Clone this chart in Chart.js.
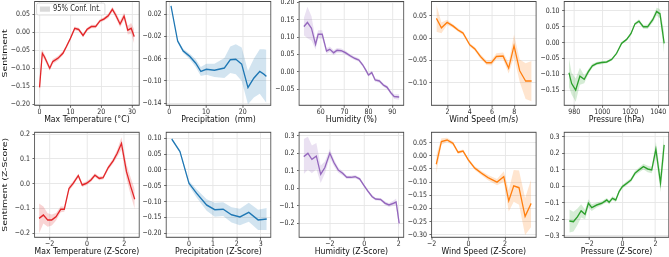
<!DOCTYPE html>
<html><head><meta charset="utf-8">
<script src="https://cdn.jsdelivr.net/npm/chart.js@4.4.1/dist/chart.umd.min.js"></script>
<style>
html,body{margin:0;padding:0;background:#fff;overflow:hidden;width:669px;height:257px}
#wrap{position:absolute;left:0;top:0;width:669px;height:257px}
#wrap canvas{position:absolute}
</style></head><body><div id="wrap"></div>
<script>
// ---------- data ----------
const tempX = [0, 0.9, 1.6, 3.3, 4.3, 6.0, 7.6, 8.7, 10.0, 11.4, 12.7, 14.1, 15.4, 16.8, 18.2, 19.6, 20.9, 22.3, 23.6, 24.7, 26.1, 27.4, 28.6, 29.7, 30.7];
const tempY = [-0.153, -0.058, -0.068, -0.100, -0.081, -0.072, -0.058, -0.040, -0.017, 0.011, 0.008, -0.009, 0.008, 0.016, 0.016, 0.032, 0.037, 0.046, 0.064, 0.048, 0.023, 0.045, 0.006, 0.011, -0.012];
const tempCI = [0.030, 0.010, 0.008, 0.007, 0.007, 0.006, 0.006, 0.005, 0.005, 0.005, 0.005, 0.005, 0.005, 0.005, 0.005, 0.005, 0.005, 0.006, 0.007, 0.008, 0.009, 0.010, 0.012, 0.015, 0.020];

const precipX = [0.5, 2.3, 3.8, 5.6, 7.2, 8.6, 10.1, 12.3, 15.0, 16.6, 18.1, 19.7, 21.4, 23.0, 24.6, 25.7, 26.4];
const precipY = [0.035, -0.028, -0.046, -0.056, -0.068, -0.083, -0.079, -0.081, -0.077, -0.062, -0.061, -0.070, -0.112, -0.095, -0.083, -0.088, -0.092];
const precipCI = [0.002, 0.003, 0.004, 0.005, 0.007, 0.008, 0.010, 0.012, 0.018, 0.024, 0.027, 0.030, 0.030, 0.035, 0.040, 0.045, 0.048];

const humX = [52.9, 54.4, 56.1, 57.8, 58.9, 60.6, 62.4, 63.8, 65.4, 66.8, 68.6, 70.4, 72.4, 74.2, 76.0, 77.6, 79.0, 80.0, 81.4, 82.8, 84.6, 86.3, 87.8, 89.4, 90.8, 92.9];
const humY = [0.130, 0.142, 0.125, 0.079, 0.108, 0.108, 0.060, 0.065, 0.055, 0.062, 0.061, 0.055, 0.046, 0.039, 0.034, 0.020, 0.004, -0.009, -0.002, -0.023, -0.026, -0.038, -0.044, -0.060, -0.071, -0.072];
const humCI = [0.025, 0.045, 0.035, 0.015, 0.012, 0.012, 0.008, 0.008, 0.007, 0.007, 0.006, 0.006, 0.005, 0.005, 0.005, 0.005, 0.005, 0.005, 0.005, 0.005, 0.005, 0.005, 0.005, 0.006, 0.007, 0.008];

const windX = [1.01, 1.46, 1.97, 2.5, 2.96, 3.4, 4.0, 4.45, 4.96, 5.5, 5.94, 6.39, 6.99, 7.49, 7.97, 8.48, 9.01, 9.55];
const windY = [0.044, 0.023, 0.035, 0.027, 0.018, 0.011, -0.015, -0.024, -0.041, -0.055, -0.055, -0.041, -0.040, -0.067, -0.017, -0.073, -0.096, -0.096];
const windCI = [0.030, 0.012, 0.006, 0.004, 0.004, 0.004, 0.004, 0.004, 0.005, 0.005, 0.006, 0.007, 0.008, 0.012, 0.025, 0.025, 0.040, 0.045];

const presX = [976.2, 978.1, 981.0, 984.0, 987.1, 990.0, 992.9, 996.0, 999.5, 1003.1, 1006.7, 1010.2, 1013.8, 1017.4, 1020.5, 1023.3, 1026.2, 1029.3, 1032.4, 1036.0, 1038.8, 1041.2, 1044.2];
const presY = [-0.095, -0.129, -0.150, -0.106, -0.116, -0.092, -0.073, -0.066, -0.063, -0.061, -0.053, -0.034, -0.002, 0.010, 0.029, 0.059, 0.068, 0.050, 0.050, 0.072, 0.098, 0.091, -0.002];
const presCI = [0.045, 0.035, 0.037, 0.027, 0.012, 0.008, 0.006, 0.005, 0.005, 0.004, 0.004, 0.004, 0.004, 0.004, 0.004, 0.005, 0.006, 0.006, 0.007, 0.008, 0.012, 0.015, 0.035];

const zTempX = [-2.56, -2.33, -2.10, -1.88, -1.65, -1.40, -1.21, -0.96, -0.73, -0.46, -0.25, -0.02, 0.21, 0.43, 0.66, 0.87, 1.14, 1.40, 1.62, 1.85, 2.12, 2.35, 2.56];
const zTempY = [-0.141, -0.127, -0.147, -0.147, -0.134, -0.104, -0.104, -0.020, 0.001, 0.032, -0.006, 0.001, 0.014, 0.034, 0.021, 0.024, 0.064, 0.091, 0.122, 0.162, 0.048, -0.013, -0.063];
const zTempCI = [0.060, 0.034, 0.027, 0.022, 0.015, 0.012, 0.010, 0.010, 0.009, 0.008, 0.008, 0.008, 0.008, 0.008, 0.008, 0.008, 0.009, 0.010, 0.015, 0.025, 0.030, 0.035, 0.040];

const zPrecipX = [-0.72, -0.375, 0, 0.32, 0.74, 1.08, 1.43, 1.78, 2.13, 2.5, 2.89, 3.25];
const zPrecipY = [0.098, 0.058, -0.042, -0.074, -0.111, -0.126, -0.124, -0.142, -0.149, -0.134, -0.158, -0.155];
const zPrecipCI = [0.004, 0.005, 0.008, 0.013, 0.018, 0.022, 0.022, 0.024, 0.026, 0.030, 0.032, 0.035];

const zHumX = [-3.51, -3.27, -3.04, -2.78, -2.53, -2.29, -2.00, -1.76, -1.51, -1.25, -1.02, -0.78, -0.53, -0.27, -0.04, 0.20, 0.45, 0.65, 0.94, 1.20, 1.43, 1.69, 1.84, 2.02];
const zHumY = [0.182, 0.201, 0.166, 0.185, 0.081, 0.119, 0.201, 0.147, 0.105, 0.086, 0.063, 0.063, 0.067, 0.054, 0.019, -0.015, -0.047, -0.061, -0.063, -0.085, -0.095, -0.085, -0.078, -0.200];
const zHumCI = [0.100, 0.095, 0.080, 0.075, 0.050, 0.035, 0.025, 0.020, 0.015, 0.012, 0.010, 0.010, 0.010, 0.008, 0.008, 0.008, 0.008, 0.008, 0.008, 0.010, 0.012, 0.015, 0.020, 0.040];

const zWindX = [-1.75, -1.47, -1.16, -0.84, -0.56, -0.29, 0, 0.35, 0.71, 1.07, 1.56, 1.93, 2.20, 2.47, 2.76, 3.09, 3.42];
const zWindY = [-0.032, 0.054, 0.060, 0.047, 0.013, 0.018, -0.016, -0.047, -0.066, -0.083, -0.100, -0.079, -0.171, -0.114, -0.121, -0.230, -0.180];
const zWindCI = [0.035, 0.012, 0.008, 0.007, 0.006, 0.006, 0.006, 0.007, 0.008, 0.010, 0.012, 0.020, 0.040, 0.060, 0.065, 0.070, 0.090];

const zPresX = [-3.2, -2.95, -2.71, -2.49, -2.25, -2.05, -1.85, -1.55, -1.25, -0.94, -0.8, -0.6, -0.4, -0.2, 0, 0.26, 0.52, 0.76, 1.0, 1.27, 1.53, 1.77, 2.02, 2.3, 2.52];
const zPresY = [-0.209, -0.213, -0.183, -0.148, -0.169, -0.102, -0.128, -0.112, -0.102, -0.082, -0.096, -0.072, -0.082, -0.031, -0.001, 0.019, 0.039, 0.080, 0.100, 0.120, 0.106, 0.100, 0.225, 0.020, 0.252];
const zPresCI = [0.070, 0.060, 0.050, 0.040, 0.030, 0.025, 0.020, 0.015, 0.012, 0.012, 0.012, 0.012, 0.012, 0.012, 0.012, 0.012, 0.012, 0.013, 0.015, 0.018, 0.020, 0.020, 0.045, 0.055, 0.070];

// tick values
const tempXTicks = [0, 10, 20, 30];
const tempYTicks = [-0.20, -0.15, -0.10, -0.05, 0.00, 0.05];
const precipXTicks = [0, 10, 20];
const precipYTicks = [-0.14, -0.10, -0.06, -0.02, 0.02];
const humXTicks = [60, 70, 80, 90];
const humYTicks = [-0.05, 0.00, 0.05, 0.10, 0.15, 0.20];
const windXTicks = [2, 4, 6, 8];
const windYTicks = [-0.10, -0.05, 0.00, 0.05];
const presXTicks = [980, 1000, 1020, 1040];
const presYTicks = [-0.15, -0.10, -0.05, 0.00, 0.05, 0.10];
const zTempXTicks = [-2, 0, 2];
const zTempYTicks = [-0.2, -0.1, 0.0, 0.1, 0.2];
const zPrecipXTicks = [0, 1, 2, 3];
const zPrecipYTicks = [-0.20, -0.15, -0.10, -0.05, 0.00, 0.05, 0.10];
const zHumXTicks = [-2, 0, 2];
const zHumYTicks = [-0.2, -0.1, 0.0, 0.1, 0.2, 0.3];
const zWindXTicks = [-2, 0, 2];
const zWindYTicks = [-0.30, -0.25, -0.20, -0.15, -0.10, -0.05, 0.00, 0.05];
const zPresXTicks = [-2, 0, 2];
const zPresYTicks = [-0.3, -0.2, -0.1, 0.0, 0.1, 0.2, 0.3];

// axis titles
const xTitles = ['Max Temperature (°C)', 'Precipitation  (mm)', 'Humidity (%)', 'Wind Speed (m/s)', 'Pressure (hPa)',
                 'Max Temperature (Z-Score)', 'Precipitation (Z-Score)', 'Humidity (Z-Score)', 'Wind Speed (Z-Score)', 'Pressure (Z-Score)'];
const yTitles = ['Sentiment', 'Sentiment (Z-Score)'];
const legendLabel = '95% Conf. Int.';

// ---------- styling / layout ----------
const COLORS = {
  red: ['#e3262a', 'rgba(227,38,42,0.2)'],
  blue: ['#1f77b4', 'rgba(31,119,180,0.2)'],
  purple: ['#9467bd', 'rgba(148,103,189,0.2)'],
  orange: ['#ff7f0e', 'rgba(255,127,14,0.2)'],
  green: ['#2ca02c', 'rgba(44,160,44,0.2)']
};
const S = 0.835;                      // horizontal squeeze of the whole figure
const colL = [34.6, 166.2, 299.1, 431.5, 564.2];
const PW = 104.6;
const rowT = [1.5, 132.3], rowH = [103.8, 105];
const PAD_T = 7, HX = 20.1;

const panels = [
  {x: tempX, y: tempY, ci: tempCI, c: 'red', xr: [-1.6, 32.3], yr: [-0.2028, 0.0856], xt: tempXTicks, yt: tempYTicks, yd: 2, col: 0, row: 0, legend: true},
  {x: precipX, y: precipY, ci: precipCI, c: 'blue', xr: [-0.8, 27.6], yr: [-0.144, 0.043], xt: precipXTicks, yt: precipYTicks, yd: 2, col: 1, row: 0},
  {x: humX, y: humY, ci: humCI, c: 'purple', xr: [50.9, 94.8], yr: [-0.096, 0.2023], xt: humXTicks, yt: humYTicks, yd: 2, col: 2, row: 0},
  {x: windX, y: windY, ci: windCI, c: 'orange', xr: [0.57, 9.95], yr: [-0.150, 0.0817], xt: windXTicks, yt: windYTicks, yd: 2, col: 3, row: 0},
  {x: presX, y: presY, ci: presCI, c: 'green', xr: [972.8, 1047.5], yr: [-0.198, 0.130], xt: presXTicks, yt: presYTicks, yd: 2, col: 4, row: 0},
  {x: zTempX, y: zTempY, ci: zTempCI, c: 'red', xr: [-2.8, 2.8], yr: [-0.217, 0.207], xt: zTempXTicks, yt: zTempYTicks, yd: 1, col: 0, row: 1},
  {x: zPrecipX, y: zPrecipY, ci: zPrecipCI, c: 'blue', xr: [-0.95, 3.42], yr: [-0.213, 0.119], xt: zPrecipXTicks, yt: zPrecipYTicks, yd: 2, col: 1, row: 1},
  {x: zHumX, y: zHumY, ci: zHumCI, c: 'purple', xr: [-3.78, 2.28], yr: [-0.280, 0.321], xt: zHumXTicks, yt: zHumYTicks, yd: 1, col: 2, row: 1},
  {x: zWindX, y: zWindY, ci: zWindCI, c: 'orange', xr: [-2.01, 3.69], yr: [-0.309, 0.089], xt: zWindXTicks, yt: zWindYTicks, yd: 2, col: 3, row: 1},
  {x: zPresX, y: zPresY, ci: zPresCI, c: 'green', xr: [-3.51, 2.80], yr: [-0.308, 0.328], xt: zPresXTicks, yt: zPresYTicks, yd: 1, col: 4, row: 1}
];

function fmt(v, d) {
  const p = Math.pow(10, d);
  const r = Math.round(v * p) / p;
  return (r < 0 ? '\u2212' : '') + Math.abs(r).toFixed(d);
}

const framePlugin = {
  id: 'frame',
  afterDatasetsDraw(chart) {
    const a = chart.chartArea, c = chart.ctx;
    c.save();
    c.strokeStyle = '#4a4a4a';
    c.lineWidth = 1;
    c.strokeRect(a.left, a.top, a.right - a.left, a.bottom - a.top);
    c.restore();
  }
};
const ciLegend = {
  id: 'ciLegend',
  afterDatasetsDraw(chart, args, opts) {
    if (!opts || !opts.show) return;
    const a = chart.chartArea, c = chart.ctx;
    const bx = a.left + 2.4, by = a.top + 1.6, bw = 81.8, bh = 11.9, r = 2;
    c.save();
    c.beginPath();
    c.moveTo(bx + r, by); c.lineTo(bx + bw - r, by); c.quadraticCurveTo(bx + bw, by, bx + bw, by + r);
    c.lineTo(bx + bw, by + bh - r); c.quadraticCurveTo(bx + bw, by + bh, bx + bw - r, by + bh);
    c.lineTo(bx + r, by + bh); c.quadraticCurveTo(bx, by + bh, bx, by + bh - r);
    c.lineTo(bx, by + r); c.quadraticCurveTo(bx, by, bx + r, by);
    c.closePath();
    c.fillStyle = 'rgba(255,255,255,0.85)'; c.fill();
    c.strokeStyle = '#d0d0d0'; c.lineWidth = 0.8; c.stroke();
    c.fillStyle = '#d9d9d9';
    c.fillRect(bx + 4, by + 3.4, 12, 5.2);
    c.fillStyle = '#262626';
    c.font = '8.2px "DejaVu Sans"';
    c.textBaseline = 'middle';
    c.fillText(opts.text, bx + 19.5, by + bh / 2 + 0.3);
    c.restore();
  }
};

Chart.defaults.font.family = '"DejaVu Sans", sans-serif';
Chart.defaults.font.size = 7.5;

const wrap = document.getElementById('wrap');
panels.forEach((p, i) => {
  const hasY = p.col === 0;
  const L = colL[p.col], T = rowT[p.row], H = rowH[p.row];
  const csl = hasY ? 0 : Math.floor(L - 27);     // canvas left (screen px)
  const Wy = (L - csl) / S;                        // y-axis box width (chart units)
  const Wc = PW / S;                               // plot width (chart units)
  const csw = Math.ceil(L - csl + PW + 8);         // canvas width (screen px)
  const cwLog = Math.ceil(csw / S);                // canvas width (chart units)
  const pr = cwLog - Wy - Wc;
  const ct = Math.floor(T - PAD_T), pt = T - ct;
  const ch = Math.ceil(pt + H + HX), pb = ch - pt - H - HX;

  const cv = document.createElement('canvas');
  cv.width = cwLog; cv.height = ch;
  cv.style.left = csl + 'px'; cv.style.top = ct + 'px';
  cv.style.width = csw + 'px'; cv.style.height = ch + 'px';
  wrap.appendChild(cv);

  const [line, band] = COLORS[p.c];
  const lower = p.x.map((xx, k) => ({x: xx, y: p.y[k] - p.ci[k]}));
  const upper = p.x.map((xx, k) => ({x: xx, y: p.y[k] + p.ci[k]}));
  const mid = p.x.map((xx, k) => ({x: xx, y: p.y[k]}));

  const gridOpts = {color: '#e6e6e6', lineWidth: 1, drawTicks: true, tickLength: 2.5, tickColor: '#4a4a4a', tickWidth: 0.9};

  const chart = new Chart(cv, {
    type: 'line',
    data: {
      datasets: [
        {label: 'lower', data: lower, borderWidth: 0, pointRadius: 0, fill: false, backgroundColor: band},
        {label: legendLabel, data: upper, borderWidth: 0, pointRadius: 0, fill: '-1', backgroundColor: band},
        {label: 'mean', data: mid, borderColor: line, borderWidth: 1.5, pointRadius: 0, fill: false}
      ]
    },
    options: {
      responsive: false, animation: false, devicePixelRatio: 1,
      layout: {padding: {left: 0, top: pt, right: pr, bottom: pb}},
      elements: {line: {tension: 0}, point: {radius: 0}},
      plugins: {legend: {display: false}, tooltip: {enabled: false}, ciLegend: {show: !!p.legend, text: legendLabel}},
      events: [],
      scales: {
        x: {
          type: 'linear', min: p.xr[0], max: p.xr[1],
          afterBuildTicks: s => { s.ticks = p.xt.map(v => ({value: v})); },
          afterFit: s => { s.height = HX; },
          ticks: {autoSkip: false, maxRotation: 0, minRotation: 0, padding: 0, color: '#2a2a2a', font: {size: 7.5, lineHeight: 1.07}, callback: v => fmt(v, 0)},
          grid: gridOpts, border: {display: false},
          title: {display: true, text: xTitles[i], color: '#111', font: {size: 9.3, lineHeight: 1.2}, padding: {top: 0, bottom: 0}}
        },
        y: {
          type: 'linear', min: p.yr[0], max: p.yr[1],
          afterBuildTicks: s => { s.ticks = p.yt.map(v => ({value: v})); },
          afterFit: s => { s.width = Wy; },
          ticks: {autoSkip: false, padding: 3, color: '#2a2a2a', font: {size: 7.5, lineHeight: 1.07}, callback: v => fmt(v, p.yd)},
          grid: gridOpts, border: {display: false},
          title: {display: hasY, text: hasY ? yTitles[p.row] : '', color: '#111', font: {size: 9.3, lineHeight: 1.2}, padding: {top: 0, bottom: 0}}
        }
      }
    },
    plugins: [framePlugin, ciLegend]
  });

  // draw the chart at native resolution, squeezed horizontally like the reference figure
  cv.width = csw; cv.height = ch;
  cv.style.width = csw + 'px'; cv.style.height = ch + 'px';
  chart.ctx.setTransform(S, 0, 0, 1, 0, 0);
  chart.draw();
});
</script>
</body></html>
